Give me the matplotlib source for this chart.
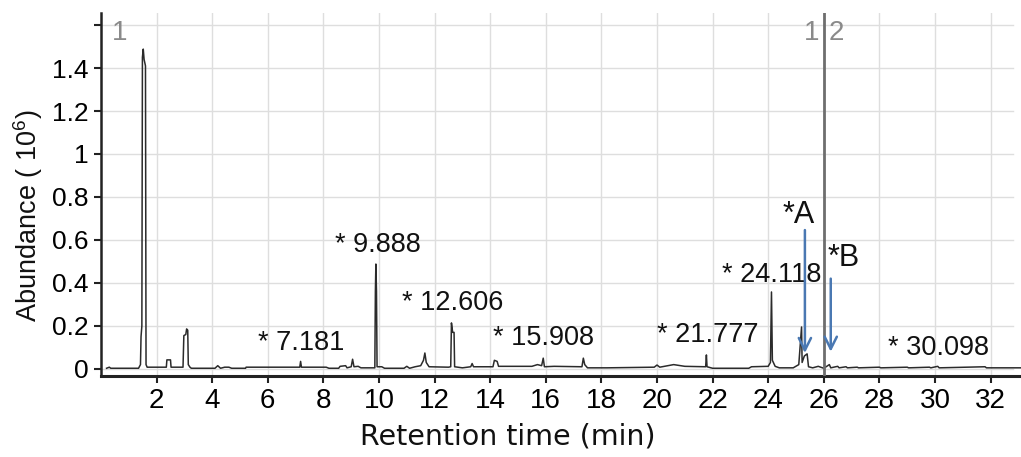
import matplotlib
matplotlib.use("Agg")
import matplotlib.pyplot as plt

# ---------------- data ----------------
rt_pts = [0.20, 0.30, 0.35, 1.35, 1.42, 1.44, 1.47, 1.49, 1.52, 1.55, 1.60, 1.62, 1.66,
          2.35, 2.37, 2.50, 2.52, 2.95, 2.98, 3.05, 3.08, 3.12, 3.14, 3.20, 3.25,
          4.10, 4.20, 4.30, 4.45, 4.60, 4.70, 5.20, 5.22,
          7.15, 7.18, 7.21, 8.10, 8.20, 8.55, 8.60, 8.80, 8.85, 9.00, 9.05, 9.10, 9.25, 9.35,
          9.85, 9.87, 9.888, 9.91, 9.93, 10.10, 10.20, 10.90, 11.00, 11.10, 11.30, 11.50,
          11.60, 11.65, 11.70, 11.80, 12.50, 12.58, 12.606, 12.65, 12.70, 12.72, 13.00,
          13.30, 13.35, 13.40, 13.60, 14.10, 14.15, 14.25, 14.30, 15.50, 15.70, 15.85,
          15.908, 15.95, 16.30, 17.30, 17.35, 17.40, 17.50, 18.20, 19.90, 20.00, 20.10,
          20.60, 21.00, 21.75, 21.777, 21.80, 22.00, 23.30, 23.40, 24.00, 24.08, 24.118,
          24.15, 24.25, 24.40, 24.90, 25.10, 25.20, 25.22, 25.30, 25.35, 25.40, 25.45,
          25.60, 25.80, 26.00, 26.20, 26.25, 26.50, 26.55, 26.80, 26.85, 27.20, 27.25,
          28.00, 28.05, 29.00, 29.05, 29.80, 29.85, 30.098, 30.15, 31.80, 31.85, 33.10]
abund_pts = [0.003, 0.008, 0.003, 0.003, 0.020, 0.150, 0.200, 1.450, 1.488, 1.440, 1.410, 0.020, 0.008,
             0.008, 0.042, 0.042, 0.008, 0.008, 0.155, 0.160, 0.186, 0.180, 0.020, 0.008, 0.003,
             0.003, 0.015, 0.003, 0.008, 0.008, 0.003, 0.003, 0.008,
             0.008, 0.035, 0.008, 0.008, 0.003, 0.003, 0.012, 0.015, 0.005, 0.010, 0.045, 0.010, 0.012, 0.005,
             0.005, 0.360, 0.488, 0.360, 0.010, 0.010, 0.003, 0.003, 0.012, 0.003, 0.010, 0.015,
             0.040, 0.074, 0.030, 0.010, 0.008, 0.010, 0.214, 0.170, 0.170, 0.010, 0.005,
             0.010, 0.025, 0.010, 0.010, 0.010, 0.040, 0.035, 0.012, 0.012, 0.020, 0.015,
             0.050, 0.010, 0.012, 0.010, 0.050, 0.020, 0.005, 0.005, 0.008, 0.018, 0.008,
             0.020, 0.012, 0.010, 0.065, 0.010, 0.003, 0.003, 0.010, 0.012, 0.030, 0.358,
             0.040, 0.012, 0.005, 0.005, 0.020, 0.195, 0.030, 0.060, 0.065, 0.070, 0.010,
             0.005, 0.012, 0.003, 0.020, 0.005, 0.012, 0.005, 0.010, 0.005, 0.008, 0.005,
             0.008, 0.005, 0.008, 0.005, 0.008, 0.005, 0.012, 0.005, 0.010, 0.005, 0.005]

peak_labels = ["* 7.181", "* 9.888", "* 12.606", "* 15.908", "* 21.777", "* 24.118", "* 30.098"]
label_x = [5.65, 8.42, 10.83, 14.10, 20.00, 22.34, 28.31]
label_y = [0.121, 0.577, 0.307, 0.144, 0.158, 0.437, 0.098]

marked_names = ["*A", "*B"]
marked_rt = [25.32, 26.25]
arrow_top = [0.646, 0.420]
arrow_tip = [0.074, 0.080]
marked_text_x = [24.53, 26.12]
marked_text_y = [0.716, 0.516]

x_ticks = [2, 4, 6, 8, 10, 12, 14, 16, 18, 20, 22, 24, 26, 28, 30, 32]
y_ticks = [0, 0.2, 0.4, 0.6, 0.8, 1.0, 1.2, 1.4, 1.6]
y_tick_labels = ["0", "0.2", "0.4", "0.6", "0.8", "1", "1.2", "1.4", ""]
segment_rt = 26.0

# ---------------- figure ----------------
W, H = 1021, 457
fig = plt.figure(figsize=(W / 100, H / 100), dpi=100)
ax = fig.add_axes([101 / W, 1 - 376 / H, 920 / W, (376 - 13) / H])
ax.set_xlim(0, 920 / 27.8)
ax.set_ylim(-0.033, 1.656)

grid_c = "#dedede"
for xt in x_ticks:
    ax.axvline(xt, color=grid_c, lw=1.0, zorder=0)
for yt in y_ticks:
    ax.axhline(yt, xmin=0, xmax=912 / 920, color=grid_c, lw=1.0, zorder=0)

ax.plot(rt_pts, abund_pts, color="#2b2b2b", lw=1.1, zorder=3)

ax.axvline(segment_rt, color="#6e6e6e", lw=2.0, zorder=4)

tick_font = "Liberation Sans"
ax.set_xticks(x_ticks)
ax.set_xticklabels([str(v) for v in x_ticks], fontsize=20, fontfamily=tick_font)
ax.set_yticks(y_ticks)
ax.set_yticklabels(y_tick_labels, fontsize=19, fontfamily=tick_font)
ax.tick_params(axis="both", direction="out", length=5, width=1.5, color="#222222", pad=4)

for s in ["top", "right"]:
    ax.spines[s].set_visible(False)
ax.spines["left"].set_linewidth(1.8)
ax.spines["bottom"].set_linewidth(2.2)
ax.spines["left"].set_color("#222222")
ax.spines["bottom"].set_color("#222222")

for txt, lx, ly in zip(peak_labels, label_x, label_y):
    ax.text(lx, ly, txt, fontsize=19.5, fontfamily=tick_font, ha="left", va="center",
            color="#111111", zorder=5)

arrow_c = "#4a78b2"
for name, rx, yt, ytip, tx, ty in zip(marked_names, marked_rt, arrow_top, arrow_tip,
                                      marked_text_x, marked_text_y):
    ax.annotate("", xy=(rx, ytip), xytext=(rx, yt),
                arrowprops=dict(arrowstyle="->", color=arrow_c, lw=1.8,
                                mutation_scale=22, shrinkA=0, shrinkB=0), zorder=6)
    ax.text(tx, ty, name, fontsize=22, fontfamily=tick_font, ha="left", va="center",
            color="#111111", zorder=6)

grey_t = "#8a8a8a"
ax.text(0.40, 1.563, "1", fontsize=20, fontfamily=tick_font, color=grey_t, ha="left", va="center")
ax.text(25.55, 1.563, "1", fontsize=20, fontfamily=tick_font, color=grey_t, ha="center", va="center")
ax.text(26.45, 1.563, "2", fontsize=20, fontfamily=tick_font, color=grey_t, ha="center", va="center")

fig.text(28 / W, 1 - 216 / H, r"Abundance ( 10$^{\mathregular{6}}$)", rotation=90,
         fontsize=19.5, fontfamily=tick_font, ha="center", va="center", color="#111111")
fig.text(508 / W, 1 - 437 / H, "Retention time (min)", fontsize=20.5,
         fontfamily="DejaVu Sans", ha="center", va="center", color="#111111")

fig.savefig("out.png", dpi=100)
